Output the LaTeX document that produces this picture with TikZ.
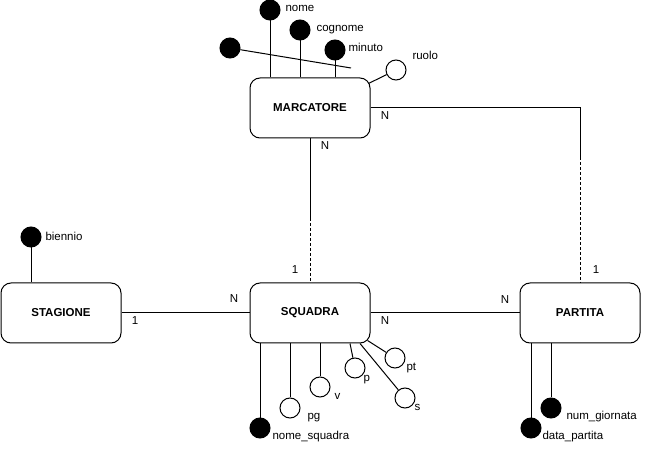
\documentclass[tikz,border=0pt]{standalone}
\usepackage{fontspec}
\setmainfont{Liberation Sans}
\usetikzlibrary{calc}
\tikzset{
  entity/.style={draw, rounded corners=10pt, minimum width=120pt, minimum height=60pt,
    font=\bfseries\fontsize{11.5}{13}\selectfont},
  keyattr/.style={draw, circle, fill=black, minimum size=20pt, inner sep=0pt},
  attr/.style={draw, circle, fill=white, minimum size=20pt, inner sep=0pt},
  lbl/.style={inner sep=0pt, anchor=west, text height=0.7em, text depth=0.2em,
    font=\fontsize{11.5}{13}\selectfont},
  card/.style={inner sep=0pt, text height=0.7em, text depth=0.2em,
    font=\fontsize{11.5}{13}\selectfont},
  weak/.style={dash pattern=on 3pt off 2pt},
}
\begin{document}
\begin{tikzpicture}[x=1pt, y=-1pt, line width=1pt]
  \useasboundingbox (0,0) rectangle (646,449);
  % Entità
  \node [entity] (marcatore) at (310,108) {MARCATORE};
  \node [entity] (squadra) at (310,313) {SQUADRA};
  \node [entity] (stagione) at (61,313) {STAGIONE};
  \node [entity] (partita) at (580,313) {PARTITA};
  % Associazioni
  \coordinate (m2s) at (310,218);
  \coordinate (m2p) at (580,157);
  \draw (stagione) -- (squadra);
  \draw (squadra) -- (partita);
  \draw (marcatore.south) -- (m2s);
  \draw [weak] (m2s) -- (squadra.north);
  \draw (marcatore.east) -| (m2p);
  \draw [weak] (m2p) -- (partita.north);
  \node [card] (c1) at (135,322) {1};
  \node [card] (c2) at (234,300) {N};
  \node [card] (c3) at (385,322) {N};
  \node [card] (c4) at (505,301) {N};
  \node [card] (c5) at (385,117) {N};
  \node [card] (c6) at (325,147) {N};
  \node [card] (c7) at (295,271) {1};
  \node [card] (c8) at (596,271) {1};
  % Attributi di MARCATORE
  \node [keyattr] (nome) at (270,10) {};
  \node [keyattr] (cognome) at (300,30) {};
  \node [keyattr] (minuto) at (335,50) {};
  \node [keyattr] (anon) at (230,48) {};
  \node [attr] (ruolo) at (396,70) {};
  \coordinate (anonend) at (351,68);
  \draw (nome) -- (nome |- marcatore.north);
  \draw (cognome) -- (cognome |- marcatore.north);
  \draw (minuto) -- (minuto |- marcatore.north);
  \draw (anon) -- (anonend);
  \draw (ruolo) -- ($(marcatore.north east)+(-2,6)$);
  \node [lbl] (lnome) at (285,9) {nome};
  \node [lbl] (lcognome) at (316,29) {cognome};
  \node [lbl] (lminuto) at (348,49) {minuto};
  \node [lbl] (lruolo) at (412,57) {ruolo};
  % Attributi di STAGIONE
  \node [keyattr] (biennio) at (31,237) {};
  \draw (biennio) -- (biennio |- stagione.north);
  \node [lbl] (lbiennio) at (45,238) {biennio};
  % Attributi di SQUADRA
  \node [keyattr] (nsq) at (260,428) {};
  \node [attr] (pg) at (290,408) {};
  \node [attr] (v) at (320,387) {};
  \node [attr] (p) at (355,368) {};
  \node [attr] (pt) at (395,358) {};
  \node [attr] (s) at (405,398) {};
  \draw (nsq) -- (nsq |- squadra.south);
  \draw (pg) -- (pg |- squadra.south);
  \draw (v) -- (v |- squadra.south);
  \draw (p) -- ($(squadra.south)+(40,0)$);
  \draw (s) -- ($(squadra.south)+(50,0)$);
  \draw (pt) -- ($(squadra.south east)+(-3,-3)$);
  \node [lbl] (lnsq) at (272,437) {nome\_squadra};
  \node [lbl] (lpg) at (307,417) {pg};
  \node [lbl] (lv) at (334,397) {v};
  \node [lbl] (lp) at (363,379) {p};
  \node [lbl] (lpt) at (406,368) {pt};
  \node [lbl] (ls) at (414,408) {s};
  % Attributi di PARTITA
  \node [keyattr] (datap) at (531,428) {};
  \node [keyattr] (numg) at (551,408) {};
  \draw (datap) -- (datap |- partita.south);
  \draw (numg) -- (numg |- partita.south);
  \node [lbl] (ldatap) at (542,437) {data\_partita};
  \node [lbl] (lnumg) at (566,417) {num\_giornata};
\end{tikzpicture}
\end{document}
